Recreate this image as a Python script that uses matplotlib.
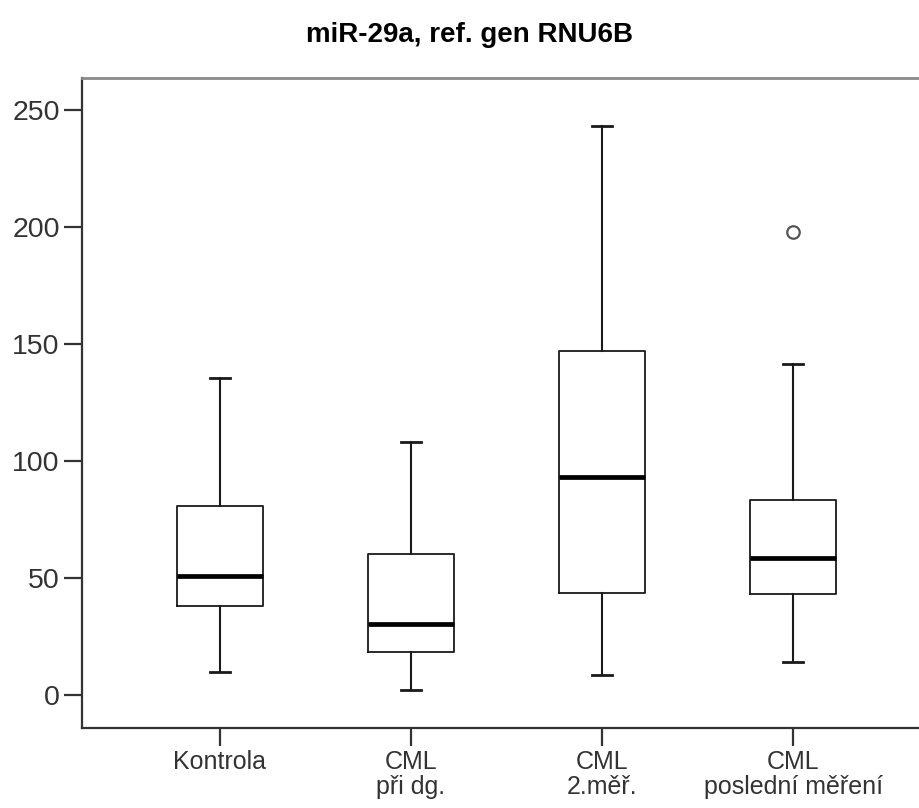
import matplotlib
matplotlib.use("Agg")
import matplotlib.pyplot as plt

plt.rcParams['font.family'] = ['Liberation Sans', 'DejaVu Sans']

categories = ["Kontrola", "CML\npři dg.", "CML\n2.měř.", "CML\nposlední měření"]
whisker_low = [9.7, 2.1, 8.5, 14.2]
q1 = [38.2, 18.5, 43.5, 43.2]
median = [51.0, 30.2, 93.3, 58.4]
q3 = [80.8, 60.1, 147.1, 83.3]
whisker_high = [135.3, 108.3, 243.3, 141.5]
outliers = [[], [], [], [198.0]]
yticks = [0, 50, 100, 150, 200, 250]

stats = []
for i, lab in enumerate(categories):
    stats.append(dict(label=lab, whislo=whisker_low[i], q1=q1[i], med=median[i],
                      q3=q3[i], whishi=whisker_high[i], fliers=outliers[i]))

fig = plt.figure(figsize=(9.19, 8.08), dpi=100)
ax = fig.add_axes([82/919, 80.3/808, (931-82)/919, (727.7-78)/808])

ax.bxp(stats, positions=[1, 2, 3, 4], widths=0.454, capwidths=0.105, showfliers=True,
       boxprops=dict(color='#1a1a1a', linewidth=1.3),
       whiskerprops=dict(color='#1a1a1a', linewidth=1.5),
       capprops=dict(color='#1a1a1a', linewidth=2.0),
       medianprops=dict(color='#000000', linewidth=3.4),
       flierprops=dict(marker='o', markerfacecolor='white', markeredgecolor='#555555',
                       markersize=9, markeredgewidth=1.6, linestyle='none'),
       patch_artist=False)

ax.set_xlim(0.2775, 4.7225)
ax.set_ylim(-14, 263.7)
ax.set_yticks(yticks)
ax.set_yticklabels([str(v) for v in yticks])
ax.set_xticks([1, 2, 3, 4])
ax.set_xticklabels(categories, linespacing=1.05)

ax.tick_params(axis='both', colors='#333333', labelcolor='#333333',
               width=1.6, length=13)
ax.tick_params(axis='y', pad=3, labelsize=20.5)
ax.tick_params(axis='x', pad=3, labelsize=18)

ax.spines['right'].set_visible(False)
ax.spines['top'].set_color('#8a8a8a')
ax.spines['top'].set_linewidth(2.0)
ax.spines['left'].set_color('#333333')
ax.spines['left'].set_linewidth(1.6)
ax.spines['bottom'].set_color('#333333')
ax.spines['bottom'].set_linewidth(1.6)

fig.text(470/919, 1 - 35/808, "miR-29a, ref. gen RNU6B", ha='center', va='center',
         fontsize=20, fontweight='bold', color='#000000')

fig.savefig("out.png", dpi=100)
